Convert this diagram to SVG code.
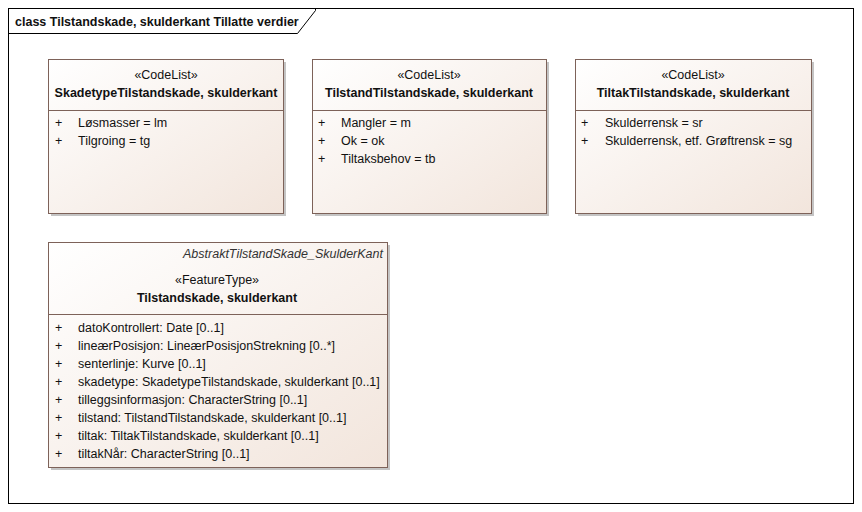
<svg xmlns="http://www.w3.org/2000/svg" width="862" height="512" viewBox="0 0 862 512">
<defs>
<linearGradient id="g" x1="0" y1="0" x2="1" y2="1">
<stop offset="0" stop-color="#FFFFFF"/>
<stop offset="1" stop-color="#F2E5DC"/>
</linearGradient>
<style>
text{font-family:"Liberation Sans",Arial,sans-serif;font-size:12.5px;fill:#111}
.st{text-anchor:middle}
.nm{text-anchor:middle;font-weight:bold}
.ab{text-anchor:end;font-style:italic;fill:#333}
.box{fill:url(#g);stroke:#7D6259;stroke-width:1}
.sh{fill:#C4C4C4}
.sep{stroke:#7D6259;stroke-width:1}
.frame{fill:#fff;stroke:#000;stroke-width:1}
</style>
</defs>
<rect width="862" height="512" fill="#fff"/>
<g id="frame">
<rect class="frame" x="8.5" y="8.5" width="845" height="495"/>
<path d="M8.5 33.5H297.5L315.5 10.5V8.5" fill="none" stroke="#000"/>
<text x="15" y="26" style="font-weight:bold">class Tilstandskade, skulderkant Tillatte verdier</text>
</g>
<g id="n1">
<rect class="sh" x="51" y="62" width="235" height="154"/>
<rect class="box" x="48.5" y="59.5" width="235" height="154"/>
<line class="sep" x1="48.5" y1="110.5" x2="283.5" y2="110.5"/>
<text class="st" x="166" y="79">«CodeList»</text>
<text class="nm" x="166" y="97">SkadetypeTilstandskade, skulderkant</text>
<text x="55" y="127">+</text><text x="78" y="127">Løsmasser = lm</text>
<text x="55" y="145">+</text><text x="78" y="145">Tilgroing = tg</text>
</g>
<g id="n2">
<rect class="sh" x="315" y="62" width="234" height="154"/>
<rect class="box" x="312.5" y="59.5" width="234" height="154"/>
<line class="sep" x1="312.5" y1="110.5" x2="546.5" y2="110.5"/>
<text class="st" x="429" y="79">«CodeList»</text>
<text class="nm" x="429" y="97">TilstandTilstandskade, skulderkant</text>
<text x="318" y="127">+</text><text x="341" y="127">Mangler = m</text>
<text x="318" y="145">+</text><text x="341" y="145">Ok = ok</text>
<text x="318" y="163">+</text><text x="341" y="163">Tiltaksbehov = tb</text>
</g>
<g id="n3">
<rect class="sh" x="578" y="62" width="236" height="154"/>
<rect class="box" x="575.5" y="59.5" width="236" height="154"/>
<line class="sep" x1="575.5" y1="110.5" x2="811.5" y2="110.5"/>
<text class="st" x="693" y="79">«CodeList»</text>
<text class="nm" x="693" y="97">TiltakTilstandskade, skulderkant</text>
<text x="581" y="127">+</text><text x="605" y="127">Skulderrensk = sr</text>
<text x="581" y="145">+</text><text x="605" y="145">Skulderrensk, etf. Grøftrensk = sg</text>
</g>
<g id="n4">
<rect class="sh" x="51" y="245" width="339" height="225"/>
<rect class="box" x="48.5" y="242.5" width="339" height="225"/>
<line class="sep" x1="48.5" y1="314.5" x2="387.5" y2="314.5"/>
<text class="ab" x="383" y="258">AbstraktTilstandSkade_SkulderKant</text>
<text class="st" x="217" y="284">«FeatureType»</text>
<text class="nm" x="217" y="302">Tilstandskade, skulderkant</text>
<text x="55" y="332">+</text><text x="78" y="332">datoKontrollert: Date [0..1]</text>
<text x="55" y="350">+</text><text x="78" y="350">lineærPosisjon: LineærPosisjonStrekning [0..*]</text>
<text x="55" y="368">+</text><text x="78" y="368">senterlinje: Kurve [0..1]</text>
<text x="55" y="386">+</text><text x="78" y="386">skadetype: SkadetypeTilstandskade, skulderkant [0..1]</text>
<text x="55" y="404">+</text><text x="78" y="404">tilleggsinformasjon: CharacterString [0..1]</text>
<text x="55" y="422">+</text><text x="78" y="422">tilstand: TilstandTilstandskade, skulderkant [0..1]</text>
<text x="55" y="440">+</text><text x="78" y="440">tiltak: TiltakTilstandskade, skulderkant [0..1]</text>
<text x="55" y="458">+</text><text x="78" y="458">tiltakNår: CharacterString [0..1]</text>
</g>
<g id="connectors"></g>
</svg>
